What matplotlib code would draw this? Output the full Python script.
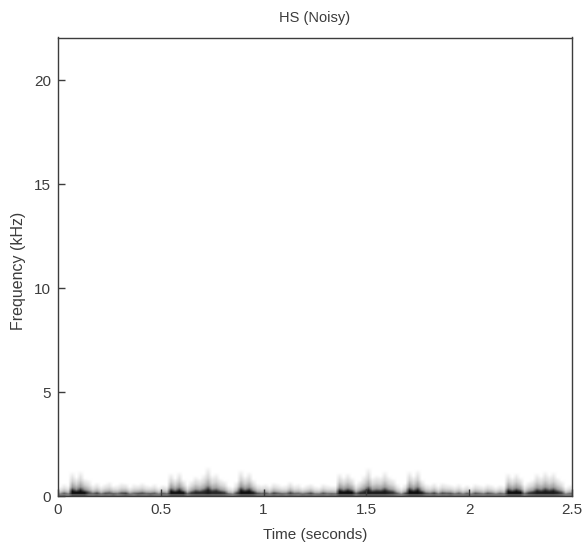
import numpy as np
import matplotlib
matplotlib.use('Agg')
import matplotlib.pyplot as plt

plt.rcParams['font.family'] = ['Liberation Sans', 'DejaVu Sans']

# visible top of the energy in each 0.02 s column (kHz)
heights = [
    .45, .60, .50, 1.15, .90, 1.2, .85, .80, .55, .65, .50, .60, .70, .50, .55, .65, .60, .45, .60, .55, .65, .55, .50, .60, .45,
    .55, .50, 1.1, .85, 1.15, .80, .55, .75, .95, .85, 1.05, 1.4, 1.0, 1.1, .85, .75, .50, .45, .70, 1.25, .95, 1.15, .80, .60, .55,
    .60, .50, .65, .60, .50, .55, .70, .55, .60, .45, .55, .60, .50, .45, .60, .55, .50, .50, 1.1, .90, 1.1, .90, .60, .75, 1.0,
    1.35, .90, 1.0, .95, 1.2, .95, .85, .60, .45, .60, 1.2, .95, 1.25, .80, .60, .55, .65, .50, .65, .60, .55, .50, .60, .45, .55,
    .45, .60, .55, .50, .60, .55, .45, .55, .50, 1.1, .90, 1.1, .90, .55, .70, .80, 1.1, .95, 1.2, 1.0, 1.15, .90, .75, .45, .55,
]
# darkness at the bottom of each column (0 white, 1 black)
core = [
    .60, .70, .60, 1.0, 1.0, 1.0, 1.0, .75, .70, .80, .65, .75, .70, .80, .65, .75, .85, .70, .65, .80, .75, .70, .80, .70, .65,
    .75, .70, 1.0, 1.0, 1.0, 1.0, .70, .85, .90, .90, .90, .95, .90, .90, .90, .85, .70, .60, .80, 1.0, 1.0, 1.0, .95, .75, .70,
    .75, .65, .80, .70, .75, .65, .80, .70, .65, .75, .70, .80, .65, .70, .75, .65, .75, .70, 1.0, 1.0, 1.0, 1.0, .70, .90, .90,
    .95, .95, .95, .95, .95, .90, .85, .70, .60, .80, 1.0, 1.0, 1.0, .95, .75, .70, .80, .65, .75, .70, .80, .65, .70, .65, .75,
    .65, .75, .70, .65, .75, .70, .65, .70, .65, 1.0, 1.0, 1.0, 1.0, .65, .85, .90, .95, .95, .95, .95, .95, .90, .80, .60, .65,
]
# how darkness falls off between the bottom and the top of a column
height_frac = [0, .2, .35, .6, 1]
fade = [1, .92, .42, .18, 0]
# the lowest band stays grey even between bursts
floor_kHz = 0.1
floor_dark = 0.5

t_end = 2.5
f_end = 22.05
title = 'HS (Noisy)'
x_label = 'Time (seconds)'
y_label = 'Frequency (kHz)'
x_ticks = [0, 0.5, 1, 1.5, 2, 2.5]
x_tick_labels = ['0', '0.5', '1', '1.5', '2', '2.5']
y_ticks = [0, 5, 10, 15, 20]

heights = np.array(heights)
core = np.array(core)

# spectrogram cells, only the bottom band holds anything
freqs = np.arange(0, 1.5, 0.05) + 0.025
img = np.zeros((len(freqs), len(heights)))
for j in range(len(heights)):
    img[:, j] = core[j] * np.interp(freqs / heights[j], height_frac, fade, right=0)
img[freqs < floor_kHz] = floor_dark + 0.5 * (img[freqs < floor_kHz] - 0.6)

fig = plt.figure(figsize=(5.82, 5.46), dpi=100)
ax = fig.add_axes([58 / 582, 1 - 496 / 546, 514 / 582, 458.5 / 546])
ax.imshow(1 - img, cmap='gray', vmin=0, vmax=1, origin='lower', aspect='auto',
          extent=[0, t_end, 0, 1.5], interpolation='bilinear')
ax.set_xlim(0, t_end)
ax.set_ylim(0, f_end)

ink = '#3c3c3c'
ax.set_xticks(x_ticks)
ax.set_xticklabels(x_tick_labels)
ax.set_yticks(y_ticks)
ax.tick_params(direction='in', length=5, width=1, color=ink, labelcolor=ink,
               labelsize=11, pad=5)
for s in ax.spines.values():
    s.set_color(ink)
    s.set_linewidth(1)

ax.set_title(title, fontsize=10.5, color=ink, pad=11)
ax.set_xlabel(x_label, fontsize=11, color=ink, labelpad=8)
ax.set_ylabel(y_label, fontsize=11.5, color=ink, labelpad=6, y=0.49)

fig.savefig('out.png', dpi=100)
